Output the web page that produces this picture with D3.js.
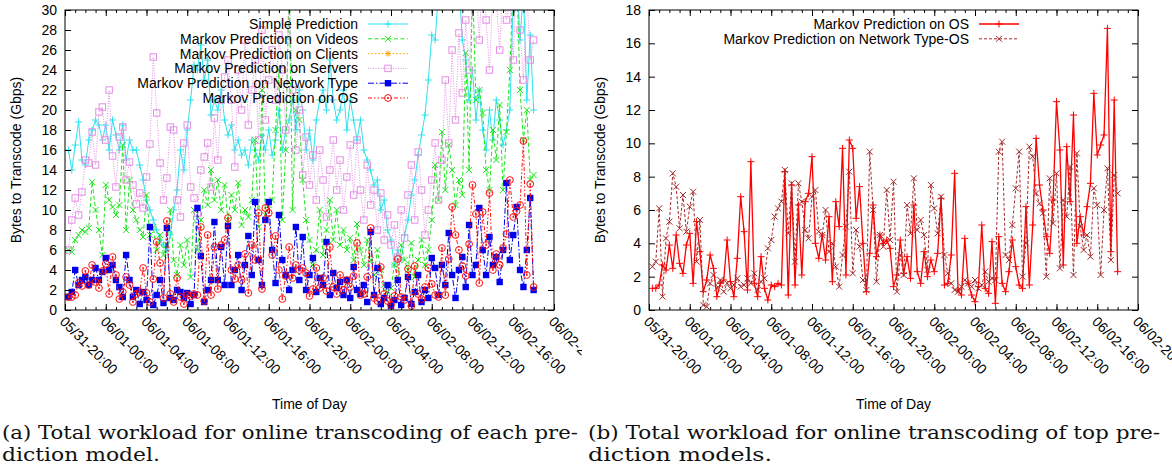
<!DOCTYPE html>
<html>
<head>
<meta charset="utf-8">
<script src="https://cdn.jsdelivr.net/npm/d3@7"></script>
<style>
body { margin: 0; background: #fff; }
svg text { font-family: "Liberation Sans", Arial, Helvetica, sans-serif; }
.cap { font-family: "DejaVu Serif", "Liberation Serif", serif; }
</style>
</head>
<body>
<svg id="chart" width="1172" height="466"></svg>
<script>
// samples every 20 minutes, starting 05/31 20:20
const startTime = new Date(2012, 4, 31, 20, 0)
const endTime = new Date(2012, 5, 2, 20, 0)
const times = d3.range(138).map(k => d3.timeMinute.offset(startTime, (k + 1) * 20))

// Gbps
const simplePred = [
  16, 14, 16.5, 18.8, 15, 14.5, 17, 18, 19, 18.5,
  17, 18.5, 16, 19, 17.5, 16, 18.5, 15, 17, 16,
  16, 14.5, 13, 11, 10, 9, 8, 7, 6.5, 6,
  7.5, 10, 12, 16, 14, 18, 21, 24.5, 24, 26.5,
  23, 25, 19.5, 21, 20, 22, 19, 17.5, 18.5, 16,
  17, 15.5, 16, 14.5, 17, 16, 15, 17.5, 16, 18,
  15.5, 17, 20, 16, 18, 19, 21, 18, 22, 20,
  16, 18, 15, 19, 21, 22, 20, 25, 21, 19,
  20, 22, 18, 21, 19, 17, 19, 16, 15, 14,
  12.5, 13, 10, 11, 8, 7, 4.5, 6, 5, 7.5,
  9, 11.5, 13, 15.5, 17.5, 19.5, 23, 27.5, 27, 32,
  34, 33, 31, 35, 32, 33, 27, 25, 21, 24,
  19, 22, 18, 16, 20, 17, 21, 19, 16.5, 18,
  20, 31, 33, 27, 32, 21, 27.5, 20
]
const videosPred = [
  6, 5.8, 7, 7.5, 8, 7.8, 8.2, 12.8, 10, 8,
  5.5, 12.5, 11, 10.3, 9.5, 10.5, 16.5, 8, 13, 10,
  9, 8, 7.3, 11.5, 7.5, 8.3, 6, 7.5, 5.5, 6.5,
  10, 5, 3.5, 6.5, 4.5, 7, 3.3, 10, 6, 9,
  12, 10.5, 14, 11, 13, 10, 12.5, 9, 11.5, 10,
  12.7, 8.5, 10, 9.3, 11, 17, 8.3, 22, 9.5, 10.5,
  11, 18, 24, 9, 16, 33, 10, 20, 19, 13,
  9, 7, 4.5, 6, 10, 5.5, 8, 11, 7, 10,
  6.5, 8, 6, 7.2, 5, 8.6, 6, 4.5, 7, 5,
  3.5, 6, 4, 2.5, 1.8, 2.2, 4.5, 3, 6.5, 5,
  4, 6.7, 3.3, 5, 7, 4.5, 6, 9, 14.5, 11,
  17.8, 12, 16.5, 14, 10.5, 13, 11.5, 25.7, 14, 33,
  21, 22, 19.7, 14, 12, 18, 15, 20.5, 12, 17.8,
  24, 33, 34, 22, 17, 20, 13, 13.5
]
const serversPred = [
  6, 9, 11.2, 9.5, 11.8, 15, 14.7, 17.8, 14.5, 19.8,
  20.3, 17, 22, 15.4, 12.3, 17.3, 18.3, 13, 14.8, 12.5,
  10.6, 11.7, 10.2, 13.3, 16.6, 25.3, 19.7, 14.7, 11, 13.2,
  18.3, 18, 11, 9.3, 16.7, 18.5, 12.3, 11.2, 9.7, 14,
  15.3, 16.7, 12.3, 19.2, 15, 21, 23.3, 25, 21, 14.3,
  24, 20, 27, 18.5, 22, 25, 17, 28, 19, 23,
  26, 21, 27.5, 24, 18, 32, 22, 16, 20, 13.5,
  17.3, 12.5, 15.5, 11, 16, 13, 9.3, 14, 17, 12,
  15, 10, 13.3, 16.5, 11.5, 17, 12, 9, 14.5, 10.5,
  12, 8, 11.7, 7, 9.5, 6.5, 8.5, 5.3, 10, 7.2,
  11.5, 14.5, 9, 15.8, 12, 7.5, 10, 13, 16.7, 11,
  15, 23, 16.7, 26, 19, 27.7, 21.7, 29, 24, 31,
  33, 27, 34, 29, 24, 32, 31, 26, 33, 29,
  31, 25, 34, 28, 23, 32, 25, 27
]
const networkPred = [
  1.3, 1.8, 4, 2.5, 3, 3.3, 2.5, 3, 4.2, 3,
  3.8, 5.2, 4, 4.5, 3, 2.3, 1.3, 5.5, 3, 1.3,
  2, 0.6, 1.8, 1, 8.3, 0.5, 1.5, 3, 0.7, 8.2,
  1.2, 1, 2, 1.8, 1.2, 1.7, 0.6, 1.5, 10.2, 5.4,
  0.8, 2, 3, 8.8, 3, 6.3, 2.5, 8.4, 2.5, 4,
  5.5, 2, 4.5, 7.4, 3.5, 10.8, 5, 2.5, 9, 10.8,
  6, 2.7, 9.5, 5, 3.5, 2, 4, 8.3, 3, 7.3,
  2, 3.5, 5.2, 1.8, 3.2, 2.5, 6.8, 1.5, 3.7, 2.2,
  2.8, 1.5, 3, 1.2, 4.3, 2, 1.6, 2.5, 0.8, 7.8,
  1.5, 4.2, 0.6, 1.2, 2.5, 0.4, 1, 3, 0.5, 1.2,
  3.3, 0.6, 1.8, 3.5, 0.8, 2, 1.2, 5.2, 4.2, 1.5,
  4.5, 2.5, 7.7, 3.5, 1.2, 4, 5.3, 2.3, 8.5, 3.5,
  4.5, 10.2, 6, 3.5, 7.3, 4.5, 5.3, 2.8, 6, 12.7,
  5, 7.5, 10.3, 4, 2.3, 6, 11.2, 2
]
const osPred = [
  1.3, 1.3, 1.5, 2.7, 2.4, 3.9, 2.5, 4.5, 2.8, 2.2,
  3.9, 4.6, 1.6, 5.3, 3.5, 1.1, 1.8, 3.3, 2.5, 0.8,
  1.6, 1.8, 4.2, 1.7, 0.8, 3.1, 6.8, 4.7, 1.2, 8.9,
  1.6, 0.8, 3.2, 1.3, 0.6, 1.5, 1.4, 1.6, 1.5, 8.3,
  0.9, 7.5, 1.5, 6.3, 2.1, 6.5, 7, 9.2, 4, 3.1,
  4.5, 3, 5.6, 1.7, 6.5, 5, 9.7, 2.1, 10.2, 9.7,
  5.5, 7.4, 4, 1.1, 3.4, 6.3, 3.2, 4.5, 4, 4.2,
  3.7, 1.4, 2.1, 4.2, 2.2, 3.2, 1.9, 6.3, 2.3, 1.6,
  3.5, 2, 3, 2.3, 3.4, 6.7, 1.5, 1.6, 3.3, 8.2,
  1.2, 0.9, 4.3, 1.6, 0.9, 0.5, 1.4, 5.1, 1.3, 1,
  4.1, 0.4, 4.4, 1.6, 1.1, 2.3, 4.2, 2.6, 1.5, 1.3,
  6.2, 1.5, 5.1, 10.3, 7.5, 6, 4.4, 3.4, 6.6, 12.5,
  9.6, 2.7, 9.8, 6.5, 11.7, 4, 5.6, 4.5, 6.2, 7.6,
  13, 9.3, 9.9, 10.5, 16.9, 3.5, 12.6, 2.3
]
const netOsPred = [
  2.6, 2.9, 6.1, 0.8, 4.3, 5.3, 8.2, 7.4, 4.9, 6.9,
  4.7, 6.2, 7.1, 2.9, 5.4, 0.3, 0.2, 1.6, 2.1, 1.3,
  1.8, 1.1, 1.6, 1.3, 1.5, 1.9, 1.4, 1.5, 1.9, 1.6,
  2.2, 1.2, 1.7, 1.9, 3.7, 4.2, 5.6, 6.1, 6.5, 8.4,
  4.6, 7.6, 2.9, 7.6, 6.5, 4.8, 4.3, 6.8, 7.2, 4.7,
  4.5, 6, 3.5, 4, 2.6, 1.4, 3.3, 5, 8.3, 2.2,
  4.8, 3.8, 1.8, 1.2, 9.5, 6, 1.7, 4.5, 3.8, 7.2,
  4.2, 7.7, 1.1, 3.3, 2.1, 6.3, 4.6, 7.9, 4.8, 5.4,
  4.5, 2.4, 7.5, 6.1, 4.6, 6.8, 3.3, 2.2, 1.6, 1.2,
  1.1, 1.4, 1.8, 1.6, 1.4, 1.8, 1.3, 1.5, 2.3, 1.7,
  1.9, 1.8, 9.5, 10.1, 3.3, 3, 5.1, 7.3, 9.5, 2,
  4, 9.8, 9.2, 7, 6.4, 5.8, 2, 7.9, 5.2, 8.2,
  2.5, 6.6, 5.6, 8.6, 2.1, 9.4, 5, 3.6, 4.5, 3.2,
  7.3, 6.3, 2.1, 6, 8.5, 3, 8.1, 7
]

const styles = {
  simple:  { label: "Simple Prediction", color: "#2ee3ee", dash: null, sym: "plus", size: 3.5 },
  videos:  { label: "Markov Prediction on Videos", color: "#19e619", dash: "4,2.5", sym: "cross", size: 3 },
  clients: { label: "Markov Prediction on Clients", color: "#ffa500", dash: "1.5,2", sym: "star", size: 3 },
  servers: { label: "Markov Prediction on Servers", color: "#e48ee4", dash: "1,1.5", sym: "square", size: 3.2 },
  network: { label: "Markov Prediction on Network Type", color: "#0000ee", dash: "6,2,1.5,2", sym: "squareFilled", size: 3.2 },
  os:      { label: "Markov Prediction on OS", color: "#ff1010", dash: "4,2,1.5,2,1.5,2", sym: "circle", size: 3.4 },
  osB:     { label: "Markov Prediction on OS", color: "#ff0000", dash: null, sym: "plus", size: 3.5, width: 1.3 },
  netOsB:  { label: "Markov Prediction on Network Type-OS", color: "#a52a2a", dash: "3,2", sym: "cross", size: 3 }
}

const svg = d3.select("#chart")
const defs = svg.append("defs")

function addSymbol(g, st) {
  var s = st.size
  if (st.sym == "plus") {
    g.append("path").attr("d", `M${-s},0H${s}M0,${-s}V${s}`)
      .attr("stroke", st.color).attr("fill", "none")
  } else if (st.sym == "cross") {
    g.append("path").attr("d", `M${-s},${-s}L${s},${s}M${-s},${s}L${s},${-s}`)
      .attr("stroke", st.color).attr("fill", "none")
  } else if (st.sym == "star") {
    var d = s * 0.75
    g.append("path").attr("d", `M${-s},0H${s}M0,${-s}V${s}M${-d},${-d}L${d},${d}M${-d},${d}L${d},${-d}`)
      .attr("stroke", st.color).attr("fill", "none")
  } else if (st.sym == "square") {
    g.append("rect").attr("x", -s).attr("y", -s).attr("width", 2 * s).attr("height", 2 * s)
      .attr("stroke", st.color).attr("fill", "none")
  } else if (st.sym == "squareFilled") {
    g.append("rect").attr("x", -s).attr("y", -s).attr("width", 2 * s).attr("height", 2 * s)
      .attr("fill", st.color)
  } else if (st.sym == "circle") {
    g.append("circle").attr("r", s).attr("stroke", st.color).attr("fill", "none")
    g.append("circle").attr("r", 0.9).attr("fill", st.color)
  }
}

function drawPanel(p) {
  var id = p.id
  defs.append("clipPath").attr("id", `panel-${id}`)
    .append("rect").attr("x", p.clip[0]).attr("y", 0).attr("width", p.clip[1] - p.clip[0]).attr("height", 466)
  defs.append("clipPath").attr("id", `plot-${id}`)
    .append("rect").attr("x", p.x0).attr("y", p.y0).attr("width", p.x1 - p.x0).attr("height", p.y1 - p.y0)

  var root = svg.append("g").attr("clip-path", `url(#panel-${id})`)

  var x = d3.scaleTime().domain([startTime, endTime]).range([p.x0, p.x1])
  var y = d3.scaleLinear().domain([0, p.yMax]).range([p.y1, p.y0])

  // data
  var plot = root.append("g").attr("clip-path", `url(#plot-${id})`)
  var line = d3.line().x(d => x(d.t)).y(d => y(d.v))

  p.series.forEach(function(s) {
    var st = styles[s.key]
    var pts = s.values.map((v, i) => ({ t: times[i], v: v }))
    var g = plot.append("g").attr("class", "series")
    g.append("path")
      .attr("d", line(pts))
      .attr("fill", "none")
      .attr("stroke", st.color)
      .attr("stroke-width", st.width || 1)
      .attr("stroke-dasharray", st.dash)
    g.selectAll(".pt")
      .data(pts.filter(d => d.v <= p.yMax))
      .enter().append("g")
      .attr("class", "pt")
      .attr("transform", d => `translate(${x(d.t)},${y(d.v)})`)
      .each(function() { addSymbol(d3.select(this), st) })
  })

  // frame
  root.append("rect")
    .attr("x", p.x0).attr("y", p.y0)
    .attr("width", p.x1 - p.x0).attr("height", p.y1 - p.y0)
    .attr("fill", "none").attr("stroke", "#000").attr("stroke-width", 1)

  // y axis, ticks inside, mirrored on the right
  var yTicks = d3.range(0, p.yMax + 1, 2)
  var yAxis = root.append("g").attr("transform", `translate(${p.x0},0)`)
    .call(d3.axisLeft(y).tickValues(yTicks).tickSize(-6).tickPadding(8))
  root.append("g").attr("transform", `translate(${p.x1},0)`)
    .call(d3.axisRight(y).tickValues(yTicks).tickSize(-6).tickFormat(""))

  // x axis: 4-hour major, hourly minor, mirrored on top
  var fmt = d3.timeFormat("%m/%d-%H:%M")
  var xAxis = root.append("g").attr("transform", `translate(0,${p.y1})`)
    .call(d3.axisBottom(x).ticks(d3.timeHour.every(4)).tickSize(-6).tickFormat(fmt))
  root.append("g").attr("transform", `translate(0,${p.y1})`)
    .call(d3.axisBottom(x).ticks(d3.timeHour.every(1)).tickSize(-3).tickFormat(""))
  root.append("g").attr("transform", `translate(0,${p.y0})`)
    .call(d3.axisTop(x).ticks(d3.timeHour.every(4)).tickSize(-6).tickFormat(""))
  root.append("g").attr("transform", `translate(0,${p.y0})`)
    .call(d3.axisTop(x).ticks(d3.timeHour.every(1)).tickSize(-3).tickFormat(""))

  root.selectAll(".domain").remove()
  root.selectAll(".tick line").attr("stroke", "#000")

  yAxis.selectAll("text")
    .attr("font-size", 14).attr("font-family", "Liberation Sans, Arial, sans-serif").attr("fill", "#000")
  xAxis.selectAll("text")
    .attr("font-size", 14).attr("font-family", "Liberation Sans, Arial, sans-serif").attr("fill", "#000")
    .attr("x", 0).attr("y", 0).attr("dy", "0.35em")
    .attr("transform", "translate(-3,9) rotate(45)")
    .style("text-anchor", "start")

  // titles
  root.append("text")
    .attr("transform", `translate(${p.yTitleX},160) rotate(-90)`)
    .attr("text-anchor", "middle").attr("font-size", 14)
    .text("Bytes to Transcode (Gbps)")
  root.append("text")
    .attr("x", (p.x0 + p.x1) / 2).attr("y", 409)
    .attr("text-anchor", "middle").attr("font-size", 14)
    .text("Time of Day")

  // key
  var key = root.append("g")
  p.legend.forEach(function(k, i) {
    var st = styles[k]
    var ly = 24 + i * 14.8
    key.append("text")
      .attr("x", p.keyX).attr("y", ly).attr("dy", "0.35em")
      .attr("text-anchor", "end").attr("font-size", 14)
      .text(st.label)
    key.append("line")
      .attr("x1", p.keyX + 10).attr("x2", p.keyX + 50)
      .attr("y1", ly).attr("y2", ly)
      .attr("stroke", st.color).attr("stroke-width", st.width || 1)
      .attr("stroke-dasharray", st.dash)
    addSymbol(key.append("g").attr("transform", `translate(${p.keyX + 30},${ly})`), st)
  })

  // caption
  var cap = root.append("g").attr("class", "cap").attr("font-size", 19).attr("fill", "#111")
  cap.append("text").attr("class", "cap").attr("x", p.capX).attr("y", 439)
    .attr("textLength", p.capW[0]).attr("lengthAdjust", "spacingAndGlyphs")
    .text(p.caption[0])
  cap.append("text").attr("class", "cap").attr("x", p.capX).attr("y", 461)
    .attr("textLength", p.capW[1]).attr("lengthAdjust", "spacingAndGlyphs")
    .text(p.caption[1])
}

drawPanel({
  id: "a", clip: [0, 582],
  x0: 65, x1: 554, y0: 10, y1: 310, yMax: 30, yTitleX: 21,
  series: [
    { key: "simple", values: simplePred },
    { key: "videos", values: videosPred },
    { key: "servers", values: serversPred },
    { key: "network", values: networkPred },
    { key: "os", values: osPred }
  ],
  // the Clients curve sits above 30 Gbps, so only its key entry shows
  legend: ["simple", "videos", "clients", "servers", "network", "os"],
  keyX: 358,
  capX: 2, capW: [576, 158],
  caption: ["(a) Total workload for online transcoding of each pre-", "diction model."]
})

drawPanel({
  id: "b", clip: [582, 1172],
  x0: 649, x1: 1138, y0: 10, y1: 310, yMax: 18, yTitleX: 605,
  series: [
    { key: "osB", values: osPred },
    { key: "netOsB", values: netOsPred }
  ],
  legend: ["osB", "netOsB"],
  keyX: 969,
  capX: 588, capW: [572, 184],
  caption: ["(b) Total workload for online transcoding of top pre-", "diction models."]
})
</script>
</body>
</html>
